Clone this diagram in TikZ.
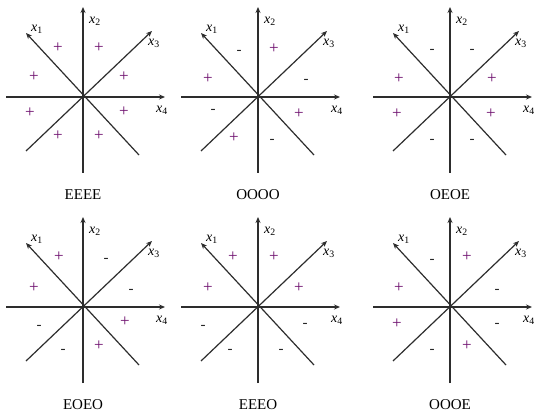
\documentclass[tikz,border=0pt]{standalone}
\usepackage{fontspec}
\setmainfont{Liberation Serif}
\usetikzlibrary{arrows.meta}
\definecolor{axisgray}{RGB}{45,45,45}
\definecolor{plusc}{RGB}{110,15,110}
\tikzset{
  axisline/.style={draw=axisgray, line width=1.2pt, -{Stealth[length=6pt,width=5pt]}},
  axlabel/.style={font=\fontsize{14}{16}\selectfont, inner sep=0pt},
  plussign/.style={text=plusc, font=\fontsize{17}{18}\selectfont, inner sep=0pt},
  minussign/.style={text=black!85, font=\fontsize{15}{18}\selectfont, inner sep=0pt, yshift=-1.4pt},
  captionlbl/.style={font=\fontsize{15}{18}\selectfont, inner sep=0pt},
}
\newcommand\symplussign{+}
\newcommand\symminussign{-}
\newcommand\axpanel[5]{%
\begin{scope}[shift={(#2,#3)}]
  \coordinate (#1-o) at (0,0);
  \coordinate (#1-n) at (0,-90);
  \coordinate (#1-s) at (0,76);
  \coordinate (#1-w) at (-77,0);
  \coordinate (#1-e) at (82,0);
  \coordinate (#1-nw) at (-57,-64);
  \coordinate (#1-se) at (56,58);
  \coordinate (#1-ne) at (69,-66);
  \coordinate (#1-sw) at (-57,54);
  \draw[axisline] (#1-s) -- (#1-n);
  \draw[axisline] (#1-w) -- (#1-e);
  \draw[axisline] (#1-se) -- (#1-nw);
  \draw[axisline] (#1-sw) -- (#1-ne);
  \node[axlabel] (#1-l1) at (-46,-68) {\textit{x}\textsubscript{1}};
  \node[axlabel] (#1-l2) at (12,-76) {\textit{x}\textsubscript{2}};
  \node[axlabel] (#1-l3) at (71,-54) {\textit{x}\textsubscript{3}};
  \node[axlabel] (#1-l4) at (79,13) {\textit{x}\textsubscript{4}};
  \foreach \s/\dx/\dy [count=\i] in {#5}{\node[\s] (#1-sg\i) at (\dx,\dy) {\csname sym\s\endcsname};}
  \node[captionlbl] (#1-cap) at (0,98) {#4};
\end{scope}}
\begin{document}
\begin{tikzpicture}[x=1pt,y=-1pt]
\useasboundingbox[fill=white] (0,0) rectangle (536,417);
\axpanel{pa}{83}{97}{EEEE}{plussign/-25/-49, plussign/16/-49, plussign/-49/-20, plussign/41/-20, plussign/-53/16, plussign/41/15, plussign/-25/39, plussign/16/39}
\axpanel{pb}{258}{97}{OOOO}{minussign/-19/-46, plussign/16/-48, plussign/-50/-18, minussign/48/-17, minussign/-45/13, plussign/41/17, plussign/-24/41, minussign/14/43}
\axpanel{pc}{450}{97}{OEOE}{minussign/-18/-47, minussign/22/-47, plussign/-51/-18, plussign/42/-18, plussign/-53/17, plussign/41/17, minussign/-18/43, minussign/22/43}
\axpanel{pd}{83}{307}{EOEO}{plussign/-24/-50, minussign/23/-48, plussign/-49/-19, minussign/48/-17, minussign/-44/19, plussign/42/15, minussign/-20/43, plussign/16/39}
\axpanel{pe}{258}{307}{EEEO}{plussign/-25/-50, plussign/16/-50, plussign/-50/-19, plussign/41/-19, minussign/-55/19, minussign/47/17, minussign/-28/43, minussign/23/43}
\axpanel{pf}{450}{307}{OOOE}{minussign/-18/-47, plussign/17/-50, plussign/-51/-19, minussign/47/-17, plussign/-53/17, minussign/47/17, minussign/-18/43, plussign/17/39}
\end{tikzpicture}
\end{document}
